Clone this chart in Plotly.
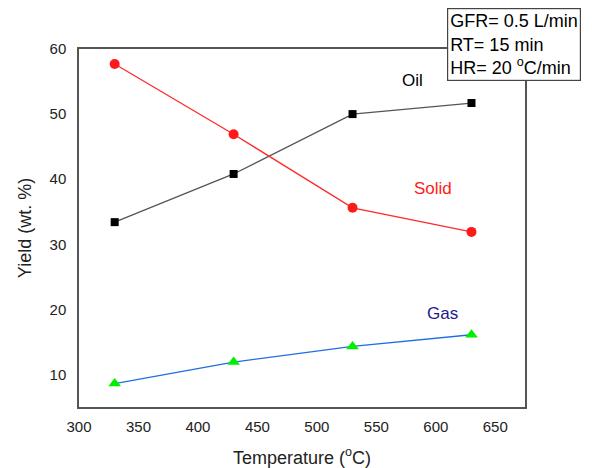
import plotly.graph_objects as go

temperature = [330, 430, 530, 630]
oil = [33.4, 40.8, 50.0, 51.7]
solid = [57.7, 46.9, 35.6, 31.9]
gas = [8.6, 11.9, 14.3, 16.1]

x_ticks = [300, 350, 400, 450, 500, 550, 600, 650]
y_ticks = [10, 20, 30, 40, 50, 60]

font = "Liberation Sans, Arial, sans-serif"

fig = go.Figure()
fig.add_trace(go.Scatter(x=temperature, y=oil, mode="lines+markers", name="Oil",
                         line=dict(color="#555555", width=1.3),
                         marker=dict(symbol="square", size=8, color="black")))
fig.add_trace(go.Scatter(x=temperature, y=solid, mode="lines+markers", name="Solid",
                         line=dict(color="#ff2a2a", width=1.3),
                         marker=dict(symbol="circle", size=10, color="#ff1a1a")))
fig.add_trace(go.Scatter(x=temperature, y=gas, mode="lines+markers", name="Gas",
                         line=dict(color="#1f6fe0", width=1.3),
                         marker=dict(symbol="triangle-up", size=11, color="#00ee00")))

fig.add_annotation(x=580, y=55.2, text="Oil", showarrow=False,
                   font=dict(size=17, color="black", family=font))
fig.add_annotation(x=598, y=38.5, text="Solid", showarrow=False,
                   font=dict(size=17, color="#ff1a1a", family=font))
fig.add_annotation(x=606, y=19.3, text="Gas", showarrow=False,
                   font=dict(size=17, color="#1a1a8c", family=font))

fig.add_annotation(xref="paper", yref="paper", x=(447 - 79) / 446, y=(407 - 8) / 358,
                   xanchor="left", yanchor="top", align="left", showarrow=False,
                   text="GFR= 0.5 L/min<br>RT= 15 min<br>HR= 20 <sup>o</sup>C/min",
                   font=dict(size=18, color="black", family=font),
                   bgcolor="white", bordercolor="#444444", borderwidth=1.2, borderpad=2)

# page has 8px default body margin, so figure is 8px smaller and shifted
fig.update_layout(
    width=584, height=460,
    margin=dict(l=71, r=67, t=41, b=61),
    plot_bgcolor="white", paper_bgcolor="white",
    showlegend=False,
    font=dict(family=font, color="#222222"),
    xaxis=dict(range=[300, 675], tickvals=x_ticks, showgrid=False, zeroline=False,
               showline=True, linecolor="#555555", linewidth=1.5, mirror=True,
               ticks="", tickfont=dict(size=15, color="#222222"), automargin=False,
               ticklabelstandoff=5,
               title=dict(text="Temperature (<sup>o</sup>C)", font=dict(size=18, color="#222222"), standoff=20)),
    yaxis=dict(range=[5, 60], tickvals=y_ticks, showgrid=False, zeroline=False,
               showline=True, linecolor="#555555", linewidth=1.5, mirror=True,
               ticks="", tickfont=dict(size=15, color="#222222"), ticklabelstandoff=8,
               automargin=False,
               title=dict(text="Yield (wt. %)", font=dict(size=18, color="#222222"), standoff=13)),
)

fig.write_html("out.html")
